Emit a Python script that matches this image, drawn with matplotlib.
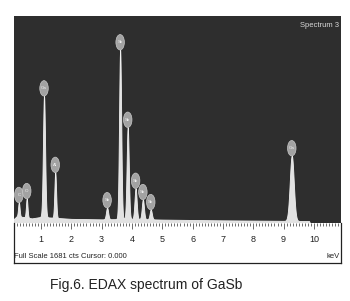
import numpy as np
import matplotlib
matplotlib.use('Agg')
import matplotlib.pyplot as plt
from matplotlib.patches import Ellipse

# peak data (keV, counts above background, sigma keV)
peak_label = ['C', 'O', 'Ga', 'Al', 'Sb', 'Sb', 'Sb', 'Sb', 'Sb', 'Sb', 'Ga']
peak_kev = [0.27, 0.53, 1.10, 1.47, 3.18, 3.61, 3.86, 4.12, 4.36, 4.62, 9.27]
peak_cts = [115, 155, 985, 370, 95, 1375, 745, 250, 160, 80, 530]
peak_sig = [0.025, 0.025, 0.035, 0.028, 0.035, 0.035, 0.035, 0.035, 0.035, 0.035, 0.065]

# background level
bg_kev = [0.11, 0.2, 0.4, 0.7, 1.0, 1.5, 2.0, 3.0, 4.0, 5.0, 6.0, 7.0, 8.0, 9.0, 9.84, 9.87]
bg_cts = [35, 55, 50, 38, 50, 42, 34, 30, 34, 28, 25, 22, 20, 18, 16, 0]

tick_kev = [1, 2, 3, 4, 5, 6, 7, 8, 9, 10]
full_scale = 1681

narrow = ['Liberation Sans Narrow', 'Liberation Sans', 'DejaVu Sans']

fig = plt.figure(figsize=(3.5, 3.01), dpi=100)
ax = fig.add_axes([0.04, 0.259, 0.934, 0.688])
ax2 = fig.add_axes([0.04, 0.126, 0.934, 0.133])

# spectrum = background + peaks
e = np.arange(0.11, 9.87, 0.005)
spec = np.interp(e, bg_kev, bg_cts)
for x0, a, s in zip(peak_kev, peak_cts, peak_sig):
    spec = spec + a * np.exp(-0.5 * ((e - x0) / s) ** 2)

ax.set_facecolor('#2e2e2e')
ax.fill_between(e, 0, spec, color='#e2e2e2', lw=0.6, edgecolor='#f0f0f0')
ax.set_xlim(0.11, 10.89)
ax.set_ylim(0, full_scale)
for sp in ax.spines.values():
    sp.set_visible(False)
ax.set_xticks([])
ax.set_yticks([])

# element markers
for lab, x0 in zip(peak_label, peak_kev):
    top = spec[np.abs(e - x0) < 0.02].max()
    ax.add_patch(Ellipse((x0, top + 60), 0.28, 125, facecolor='#a2a2a2',
                         edgecolor='#c8c8c8', lw=0.5, zorder=3))
    ax.text(x0, top + 60, lab, color='#f4f4f4', fontsize=3.2, ha='center',
            va='center', zorder=4, family=narrow)

ax.text(0.995, 0.955, 'Spectrum 3', transform=ax.transAxes, ha='right', va='center',
        color='#d8d8d8', fontsize=5.5, family=narrow)

# scale strip
ax2.set_facecolor('white')
ax2.set_xlim(0.11, 10.89)
ax2.set_ylim(0, 1)
ax2.set_yticks([])
ax2.set_xticks(tick_kev)
ax2.set_xticks(np.arange(0.2, 10.85, 0.1), minor=True)
ax2.tick_params(axis='x', which='both', direction='in', top=True, bottom=False,
                labelbottom=False, color='#333333', width=0.5)
ax2.tick_params(axis='x', which='major', length=4)
ax2.tick_params(axis='x', which='minor', length=2.5)
for x0 in tick_kev:
    ax2.text(x0, 0.6, str(x0), ha='center', va='center', fontsize=6.5,
             color='#222222', family=narrow)
ax2.text(0.0, 0.17, 'Full Scale 1681 cts Cursor: 0.000', transform=ax2.transAxes,
         ha='left', va='center', fontsize=5.5, color='#222222', family=narrow)
ax2.text(0.997, 0.17, 'keV', transform=ax2.transAxes, ha='right', va='center',
         fontsize=5.5, color='#222222', family=narrow)
ax2.spines['top'].set_visible(False)
for k in ['left', 'right', 'bottom']:
    ax2.spines[k].set_linewidth(0.9)
    ax2.spines[k].set_color('#222222')

fig.text(0.143, 0.053, 'Fig.6. EDAX spectrum of GaSb', ha='left', va='center',
         fontsize=10, color='#222222', family='Liberation Sans')

fig.savefig('out.png', dpi=100)
